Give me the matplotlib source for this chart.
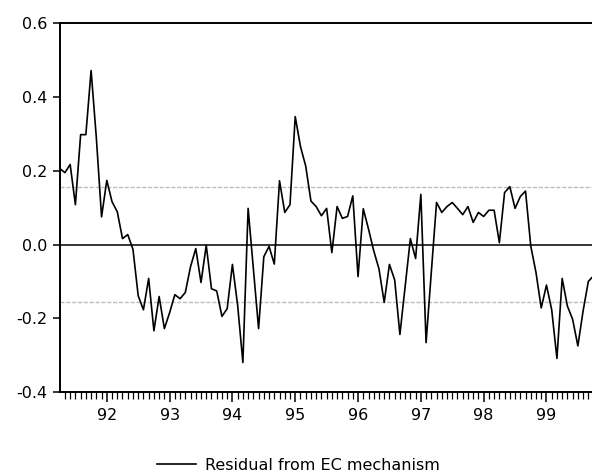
import numpy as np
import matplotlib
matplotlib.use('Agg')
import matplotlib.pyplot as plt

# monthly residuals, 1991M4 .. 1999M10
START_YEAR = 1991
START_MONTH = 4
residual = [
    0.206, 0.195, 0.217, 0.108, 0.298, 0.298, 0.472, 0.290, 0.075,
    0.174, 0.116, 0.089, 0.016, 0.027, -0.013, -0.139, -0.177, -0.092, -0.234, -0.141, -0.228,
    -0.185, -0.136, -0.147, -0.130, -0.060, -0.011, -0.103, -0.002, -0.120, -0.126, -0.195, -0.174,
    -0.054, -0.165, -0.320, 0.098, -0.065, -0.228, -0.033, -0.005, -0.053, 0.173, 0.087, 0.108,
    0.347, 0.266, 0.213, 0.118, 0.103, 0.078, 0.098, -0.022, 0.103, 0.071, 0.076, 0.132,
    -0.087, 0.097, 0.042, -0.017, -0.066, -0.157, -0.054, -0.096, -0.244, -0.114, 0.016, -0.038,
    0.136, -0.266, -0.075, 0.114, 0.087, 0.103, 0.114, 0.098, 0.081, 0.103, 0.060, 0.087,
    0.076, 0.093, 0.093, 0.005, 0.141, 0.157, 0.098, 0.130, 0.145, -0.004, -0.076, -0.172,
    -0.110, -0.177, -0.309, -0.092, -0.167, -0.203, -0.275, -0.180, -0.100, -0.085,
]
band = 0.155
years = list(range(1992, 2000))
year_labels = [str(y)[2:] for y in years]

plt.rcParams['font.family'] = ['DejaVu Sans']

t = START_YEAR + (START_MONTH - 1) / 12 + np.arange(len(residual)) / 12

fig = plt.figure(figsize=(5.92, 4.75), dpi=100)
ax = fig.add_axes([59.5 / 592, 1 - 392 / 475, 1 - 59.5 / 592, (392 - 23.3) / 475])

ax.axhline(0, color='black', lw=1.1, zorder=2)
for b in (band, -band):
    ax.axhline(b, color='#bdbdbd', lw=1.0, ls=(0, (3, 1.2)), zorder=1)
line, = ax.plot(t, residual, color='black', lw=1.2, zorder=3,
                label='Residual from EC mechanism')

ax.set_yticks([-0.4, -0.2, 0.0, 0.2, 0.4, 0.6])
ax.set_yticklabels(['-0.4', '-0.2', '0.0', '0.2', '0.4', '0.6'])
ax.set_xticks(years)
ax.set_xticklabels(year_labels)
ax.set_xticks(np.arange(1991 + 4 / 12, 1999.8, 1 / 12), minor=True)
# limits last: set_xticks may widen the view
ax.set_xlim(t[0] - 0.003, t[0] + 101.7 / 12)
ax.set_ylim(-0.4, 0.6)

ax.spines['right'].set_visible(False)
for s in ('left', 'top', 'bottom'):
    ax.spines[s].set_linewidth(1.4)
ax.tick_params(axis='y', length=5, width=1.1, pad=4, labelsize=11.5, colors='black')
ax.tick_params(axis='x', which='major', length=7.5, width=1.1, pad=4, labelsize=11.5)
ax.tick_params(axis='x', which='minor', length=5, width=0.9)

fig.legend(handles=[line], loc='center', bbox_to_anchor=(298 / 592, 1 - 465 / 475),
           frameon=False, fontsize=11.5, handlelength=2.45, handletextpad=0.55)

fig.savefig('out.png', dpi=100)
